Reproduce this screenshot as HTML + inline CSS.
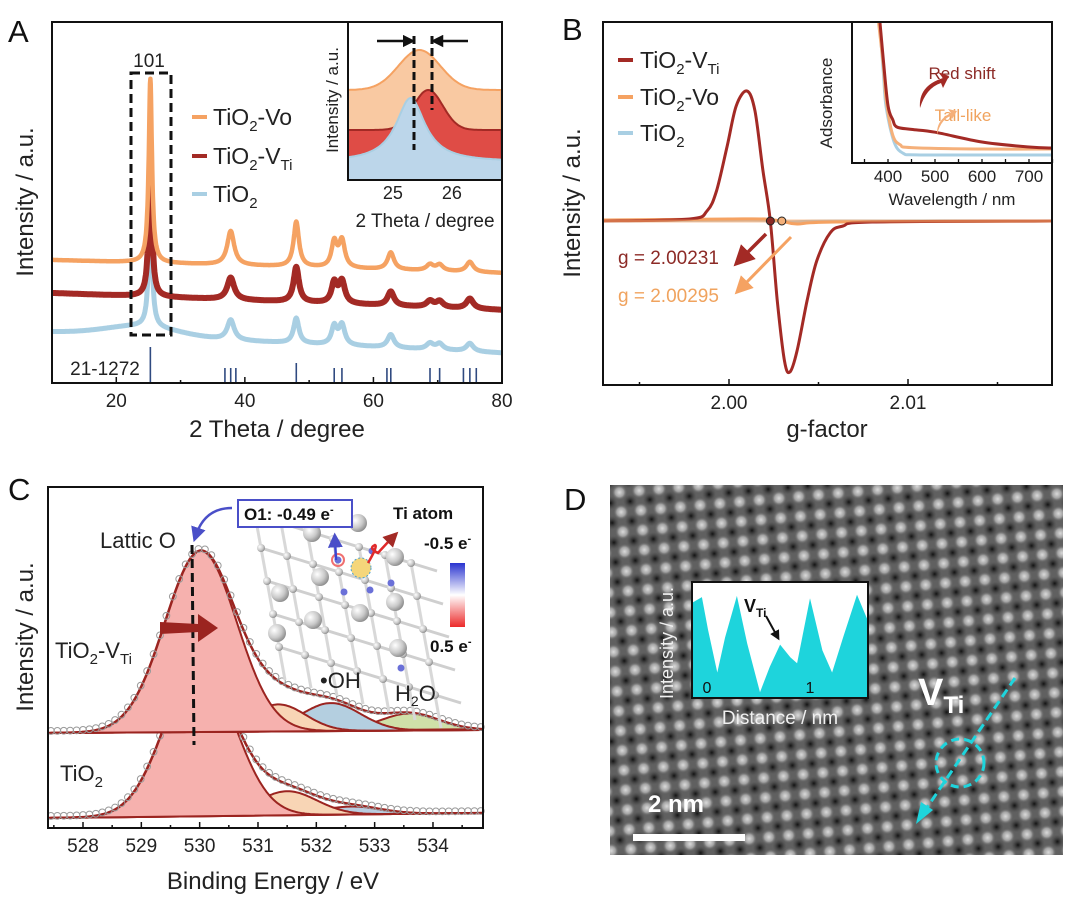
<!DOCTYPE html>
<html><head><meta charset="utf-8"><style>
html,body{margin:0;padding:0;background:#fff}
svg{display:block;font-family:"Liberation Sans",Arial,sans-serif}
</style></head><body>
<svg id="fig" width="1080" height="906" viewBox="0 0 1080 906" xmlns="http://www.w3.org/2000/svg">
<defs>
<radialGradient id="ball" cx="35%" cy="35%" r="70%"><stop offset="0" stop-color="#ffffff"/><stop offset="0.6" stop-color="#c9c9c9"/><stop offset="1" stop-color="#8a8a8a"/></radialGradient>
<radialGradient id="dot" cx="50%" cy="50%" r="50%"><stop offset="0" stop-color="#f2f2f2"/><stop offset="0.55" stop-color="#b0b0b0"/><stop offset="1" stop-color="#606060" stop-opacity="0"/></radialGradient>
<radialGradient id="hole" cx="50%" cy="50%" r="50%"><stop offset="0" stop-color="#050505"/><stop offset="1" stop-color="#404040" stop-opacity="0"/></radialGradient>
<linearGradient id="cbar" x1="0" y1="0" x2="0" y2="1"><stop offset="0" stop-color="#2a34d0"/><stop offset="0.5" stop-color="#ffffff"/><stop offset="1" stop-color="#ec2a2a"/></linearGradient>
<pattern id="lattice" width="28" height="28" patternUnits="userSpaceOnUse" patternTransform="rotate(40)">
<rect width="28" height="28" fill="#626262"/>
<circle cx="7" cy="7" r="8" fill="url(#dot)"/><circle cx="21" cy="21" r="8" fill="url(#dot)"/>
<circle cx="21" cy="7" r="7" fill="url(#hole)"/><circle cx="7" cy="21" r="7" fill="url(#hole)"/>
</pattern>
<marker id="ahRed" markerWidth="6" markerHeight="6" refX="3" refY="3" orient="auto"><path d="M0,0L6,3L0,6z" fill="#a32a25"/></marker>
<marker id="ahOr" markerWidth="6" markerHeight="6" refX="3" refY="3" orient="auto"><path d="M0,0L6,3L0,6z" fill="#f5a262"/></marker>
<marker id="ahBlue" markerWidth="6" markerHeight="6" refX="3" refY="3" orient="auto"><path d="M0,0L6,3L0,6z" fill="#4a4fc8"/></marker>
<marker id="ahBlk" markerWidth="5" markerHeight="5" refX="2.5" refY="2.5" orient="auto"><path d="M0,0L5,2.5L0,5z" fill="#111"/></marker>
</defs>
<g id="gA"></g>
<g id="gB"></g>
<g id="gC"></g>
<g id="gD"></g>
</svg>
<script>
// ===== Panel A data (XRD) =====
const xrdPeaks = [25.3, 37.8, 48.0, 53.9, 55.1, 62.7, 68.8, 70.3, 75.0];
const xrdWidths = [0.6, 1.3, 1.0, 1.0, 1.1, 1.2, 1.3, 1.3, 1.3];
const orangeHeights = [184, 34, 45, 25, 27, 17, 6, 6, 10];
const redHeights = [140, 22, 35, 20, 22, 14, 6, 6, 10];
const blueHeights = [133, 20, 25, 18, 20, 13, 6, 6, 8];
const orangeBase = [123, 110];
const redBase = [90, 73];
const blueBase = [51, 30];
const blueHump = [24, 10, 8];
const refSticks = [25.3, 36.9, 37.8, 38.6, 48.0, 53.9, 55.1, 62.1, 62.7, 68.8, 70.3, 74.0, 75.0, 76.0];
const refHeights = [36, 15, 15, 15, 20, 15, 15, 15, 15, 15, 15, 15, 15, 15];
const xTicksA = [20, 40, 60, 80];
// inset A
const insetOrange = [90, 40, 25.45, 0.5];
const insetRed = [50, 40, 25.6, 0.35];
const insetBlue = [18, 64, 25.3, 0.3];
const xTicksAi = [25, 26];
// ===== Panel B data (EPR) =====
const eprRedG = [1.9930,1.9978,1.99877,1.9993,1.9999,2.0004,2.0010,2.00145,2.0019,2.00231,2.0027,2.0031,2.0034,2.0038,2.00436,2.0049,2.00565,2.00637,2.0080,2.0180];
const eprRedI = [0,2,10,30,75,115,130,110,50,0,-80,-140,-151,-130,-80,-40,-12,-5,-1,0];
const eprOrangeG = [1.9930,2.0000,2.0020,2.0029,2.0038,2.0060,2.0180];
const eprOrangeI = [1,2,2,0,-3,-1,0];
const eprBlueG = [1.9930,2.0010,2.0025,2.0035,2.0060,2.0180];
const eprBlueI = [0,1,0,-1,0,0];
const gMarks = [2.00231, 2.00295];
const xTicksB = [2.00, 2.01];
// inset B (UV-vis)
const uvRedW = [383,390,400,410,419,450,500,600,700,748];
const uvRedA = [1.0,0.74,0.41,0.31,0.257,0.24,0.22,0.15,0.114,0.107];
const uvOrangeW = [380,390,396,410,426,450,600,748];
const uvOrangeA = [1.0,0.7,0.45,0.2,0.13,0.11,0.1,0.1];
const uvBlueW = [382,390,396,413,432,460,600,748];
const uvBlueA = [1.0,0.65,0.4,0.15,0.07,0.058,0.057,0.057];
const xTicksBi = [400, 500, 600, 700];
// ===== Panel C data (XPS) =====
const xpsTopCenters = [530.02, 531.35, 532.25, 533.6];
const xpsTopHeights = [181, 27, 28, 17];
const xpsTopFwhm = [1.45, 1.1, 1.2, 1.2];
const xpsBotCenters = [530.0, 531.5, 532.6];
const xpsBotHeights = [152, 24, 8];
const xpsBotFwhm = [1.4, 1.2, 1.2];
const xpsTopBase = [95, 98];
const xpsBotBase = [10, 15];
const xTicksC = [528, 529, 530, 531, 532, 533, 534];
// ===== Panel D data (line profile) =====
const profX = [-0.146,-0.05,0.01,0.10,0.175,0.29,0.39,0.515,0.61,0.71,0.81,0.875,1.0,1.12,1.215,1.32,1.456,1.56];
const profY = [0.82,0.87,0.59,0.22,0.52,0.88,0.47,0.05,0.27,0.46,0.35,0.30,0.86,0.41,0.22,0.52,0.89,0.67];

const NS = "http://www.w3.org/2000/svg";
function mk(tag, attrs, parent){ const e=document.createElementNS(NS,tag); for(const k in attrs) e.setAttribute(k,attrs[k]); parent.appendChild(e); return e; }
function txt(str, attrs, parent){ const e=mk('text',attrs,parent); e.textContent=str; return e; }
function pathFrom(pts){ return pts.map((p,i)=>(i?'L':'M')+p[0].toFixed(1)+','+p[1].toFixed(1)).join(''); }
function smooth(pts){ let d='M'+pts[0][0]+','+pts[0][1]; for(let i=0;i<pts.length-1;i++){const p0=pts[Math.max(0,i-1)],p1=pts[i],p2=pts[i+1],p3=pts[Math.min(pts.length-1,i+2)]; const c1=[p1[0]+(p2[0]-p0[0])/6,p1[1]+(p2[1]-p0[1])/6],c2=[p2[0]-(p3[0]-p1[0])/6,p2[1]-(p3[1]-p1[1])/6]; d+='C'+c1[0].toFixed(1)+','+c1[1].toFixed(1)+' '+c2[0].toFixed(1)+','+c2[1].toFixed(1)+' '+p2[0].toFixed(1)+','+p2[1].toFixed(1);} return d; }
const OR='#f5a262', DR='#a32a25', LB='#a9cfe3';

// ================= PANEL A =================
const gA=document.getElementById('gA');
const xA=v=>52+(v-10)*450/70, yA=I=>383-I;
function lor(x,c,w){return 1/(1+Math.pow((x-c)/(w/2),2));}
function xrd(x,base,hts,hump){let I=base[0]+(base[1]-base[0])*(x-10)/70; for(let i=0;i<xrdPeaks.length;i++) I+=hts[i]*lor(x,xrdPeaks[i],xrdWidths[i]); if(hump) I+=hump[1]*Math.exp(-Math.pow((x-hump[0])/hump[2],2)); return I;}
const seriesA=[['xrd-tio2',blueBase,blueHeights,LB,5,blueHump],['xrd-tio2-vti',redBase,redHeights,DR,6,null],['xrd-tio2-vo',orangeBase,orangeHeights,OR,4.5,null]];
seriesA.forEach(s=>{const pts=[];for(let x=10;x<=80.001;x+=0.05) pts.push([xA(x),yA(xrd(x,s[1],s[2],s[5]))]);
 const p=mk('path',{d:pathFrom(pts),fill:'none',stroke:s[3],'stroke-width':s[4],'stroke-linejoin':'round'},gA);
 
 });
refSticks.forEach((v,i)=>{const l=mk('line',{x1:xA(v),x2:xA(v),y1:383,y2:383-refHeights[i],stroke:'#2f4a80','stroke-width':1.6},gA);
 
 });
let e;
e=mk('rect',{x:52,y:22,width:450,height:361,fill:'none',stroke:'#111','stroke-width':2},gA);
 
for(let v=10;v<=80;v+=10){const t=mk('line',{x1:xA(v),x2:xA(v),y1:383,y2:v%20==0?377:380,stroke:'#111','stroke-width':1.5},gA);
 
 }
xTicksA.forEach(v=>{const t=txt(String(v),{x:xA(v),y:407,'font-size':19,'text-anchor':'middle',fill:'#222'},gA);
 
 });
e=txt('A',{x:8,y:42,'font-size':31,fill:'#111'},gA);  
e=txt('2 Theta / degree',{x:277,y:437,'font-size':24,'text-anchor':'middle',fill:'#222'},gA);  
e=txt('Intensity / a.u.',{x:0,y:0,'font-size':24,'text-anchor':'middle',fill:'#222',transform:'translate(33,202) rotate(-90)'},gA);  
e=mk('rect',{x:131,y:73,width:40,height:262,fill:'none',stroke:'#111','stroke-width':3,'stroke-dasharray':'9,5'},gA);  
e=txt('101',{x:149,y:67,'font-size':19,'text-anchor':'middle',fill:'#222'},gA);  
e=txt('21-1272',{x:105,y:375,'font-size':19,'text-anchor':'middle',fill:'#222'},gA);  
[['TiO','2','-Vo',OR,117,''],['TiO','2','-V',DR,156,'Ti'],['TiO','2','',LB,194,'']].forEach(l=>{
 const ln=mk('line',{x1:192,x2:207,y1:l[4],y2:l[4],stroke:l[3],'stroke-width':4},gA);
  
 const t=mk('text',{x:213,y:l[4]+8,'font-size':23,fill:'#222'},gA);
  
 t.innerHTML='TiO<tspan font-size="15" dy="6">2</tspan><tspan dy="-6">'+l[2]+'</tspan>'+(l[5]?'<tspan font-size="15" dy="6">'+l[5]+'</tspan>':'');});
// inset A
const gAi=mk('g',{},gA);  
mk('rect',{x:348,y:22,width:154,height:158,fill:'#fff'},gAi);
const xAi=v=>348+(v-24.24)*59, yAi=I=>180-I;
[[insetOrange,'#f9c9a2',OR,'inset-tio2-vo'],[insetRed,'#df4c46',DR,'inset-tio2-vti'],[insetBlue,'#bcd6ea',LB,'inset-tio2']].forEach(s=>{
 const pts=[];for(let x=24.24;x<=26.85;x+=0.02){const d=s[0];pts.push([xAi(x),yAi(d[0]+d[1]*(s[3]=='inset-tio2'?lor(x,d[2],d[3]*2):Math.exp(-Math.pow((x-d[2])/d[3],2))))]);}
 const a=mk('path',{d:pathFrom(pts)+'L502,180L348,180Z',fill:s[1],stroke:s[2],'stroke-width':2},gAi);
 
 });
mk('rect',{x:348,y:22,width:154,height:158,fill:'none',stroke:'#111','stroke-width':2},gAi);
xTicksAi.forEach(v=>{const t=txt(String(v),{x:xAi(v),y:199,'font-size':18,'text-anchor':'middle',fill:'#222'},gAi);
  });
e=txt('2 Theta / degree',{x:425,y:227,'font-size':19,'text-anchor':'middle',fill:'#222'},gAi);  
e=txt('Intensity / a.u.',{x:0,y:0,'font-size':17,'text-anchor':'middle',fill:'#222',transform:'translate(338,100) rotate(-90)'},gAi);  
mk('line',{x1:414,x2:414,y1:36,y2:150,stroke:'#111','stroke-width':3,'stroke-dasharray':'8,4'},gAi);
mk('line',{x1:432,x2:432,y1:36,y2:110,stroke:'#111','stroke-width':3,'stroke-dasharray':'8,4'},gAi);
mk('line',{x1:377,x2:409,y1:41,y2:41,stroke:'#111','stroke-width':2.5,'marker-end':'url(#ahBlk)'},gAi);
mk('line',{x1:468,x2:437,y1:41,y2:41,stroke:'#111','stroke-width':2.5,'marker-end':'url(#ahBlk)'},gAi);

// ================= PANEL B =================
const gB=document.getElementById('gB');
const xB=g=>729+(g-2.00)*17900, yB=I=>221-I;
function clipPts(G,I){return G.map((g,i)=>[Math.max(603,Math.min(1052,xB(g))),yB(I[i])]);}
[[eprBlueG,eprBlueI,LB,'epr-tio2'],[eprOrangeG,eprOrangeI,OR,'epr-tio2-vo'],[eprRedG,eprRedI,DR,'epr-tio2-vti']].forEach(s=>{
 const p=mk('path',{d:smooth(clipPts(s[0],s[1])),fill:'none',stroke:s[2],'stroke-width':3},gB);
 
 });
mk('line',{x1:603,x2:1052,y1:221,y2:221,stroke:OR,'stroke-width':3,opacity:0.6},gB);
e=mk('rect',{x:603,y:22,width:449,height:363,fill:'none',stroke:'#111','stroke-width':2},gB);  
for(let g=1.995;g<=2.0176;g+=0.005){const t=mk('line',{x1:xB(g),x2:xB(g),y1:385,y2:Math.abs((g*1000)%10)<0.5||Math.abs((g*1000)%10)>9.5?379:382,stroke:'#111','stroke-width':1.5},gB);
  }
xTicksB.forEach(v=>{const t=txt(v.toFixed(2),{x:xB(v),y:409,'font-size':19,'text-anchor':'middle',fill:'#222'},gB);
  });
e=txt('B',{x:562,y:40,'font-size':31,fill:'#111'},gB);  
e=txt('g-factor',{x:827,y:437,'font-size':24,'text-anchor':'middle',fill:'#222'},gB);  
e=txt('Intensity / a.u.',{x:0,y:0,'font-size':24,'text-anchor':'middle',fill:'#222',transform:'translate(580,203) rotate(-90)'},gB);  
[[DR,'#8c2a26'],[OR,'#f3b07a']].forEach((c,i)=>{const m=mk('circle',{cx:xB(gMarks[i]),cy:221,r:4,fill:c[1],stroke:'#222','stroke-width':1},gB);
  });
mk('line',{x1:766,y1:234,x2:741,y2:259,stroke:DR,'stroke-width':3.5,'marker-end':'url(#ahRed)'},gB);
mk('line',{x1:791,y1:237,x2:741,y2:288,stroke:OR,'stroke-width':3,'marker-end':'url(#ahOr)'},gB);
e=txt('g = 2.00231',{x:618,y:264,'font-size':19,fill:'#8c2a26'},gB);  
e=txt('g = 2.00295',{x:618,y:302,'font-size':19,fill:'#f0a35e'},gB);  
[[DR,60,'-V','Ti'],[OR,97,'-Vo',''],[LB,133,'','']].forEach(l=>{
 const ln=mk('line',{x1:618,x2:633,y1:l[1],y2:l[1],stroke:l[0],'stroke-width':4},gB);
  
 const t=mk('text',{x:640,y:l[1]+8,'font-size':23,fill:'#222'},gB);
  
 t.innerHTML='TiO<tspan font-size="15" dy="6">2</tspan><tspan dy="-6">'+l[2]+'</tspan>'+(l[3]?'<tspan font-size="15" dy="6">'+l[3]+'</tspan>':'');});
// inset B
const gBi=mk('g',{},gB);  
mk('rect',{x:852,y:22,width:200,height:141,fill:'#fff'},gBi);
const xBi=w=>888+(w-400)*0.47, yBi=a=>163-a*140;
[[uvBlueW,uvBlueA,LB,'uv-tio2'],[uvOrangeW,uvOrangeA,'#f5b07a','uv-tio2-vo'],[uvRedW,uvRedA,DR,'uv-tio2-vti']].forEach(s=>{
 const p=mk('path',{d:smooth(s[0].map((w,i)=>[xBi(w),yBi(s[1][i])])),fill:'none',stroke:s[2],'stroke-width':3},gBi);
 
 });
mk('rect',{x:852,y:22,width:200,height:141,fill:'none',stroke:'#111','stroke-width':2},gBi);
for(let w=350;w<=750;w+=50){const t=mk('line',{x1:xBi(w),x2:xBi(w),y1:163,y2:159,stroke:'#111','stroke-width':1.3},gBi);
  }
xTicksBi.forEach(v=>{const t=txt(String(v),{x:xBi(v),y:182,'font-size':17,'text-anchor':'middle',fill:'#222'},gBi);
  });
e=txt('Wavelength / nm',{x:952,y:205,'font-size':17,'text-anchor':'middle',fill:'#222'},gBi);  
e=txt('Adsorbance',{x:0,y:0,'font-size':17,'text-anchor':'middle',fill:'#222',transform:'translate(832,103) rotate(-90)'},gBi);  
e=txt('Red shift',{x:962,y:79,'font-size':17,'text-anchor':'middle',fill:'#8c2a26'},gBi);  
e=txt('Tail-like',{x:963,y:121,'font-size':17,'text-anchor':'middle',fill:'#f0a35e'},gBi);  
mk('path',{d:'M920,108 Q918,86 943,78 L938,72 L949,76 L943,88 L941,83 Q926,88 920,108Z',fill:DR},gBi);
mk('path',{d:'M937,135 Q936,120 951,113 L948,109 L957,111 L952,119 L950,116 Q940,121 937,135Z',fill:'#f5b07a'},gBi);

// ================= PANEL C =================
const gC=document.getElementById('gC');
const xC=v=>83+(v-528)*58.33, yCt=I=>828-I;
function gauss(x,c,f){return Math.exp(-4*Math.LN2*Math.pow((x-c)/f,2));}
function drawXPS(C,H,F,base,name,fills){
 const bl=x=>base[0]+(base[1]-base[0])*(x-527.4)/7.46;
 const xs=[];for(let x=527.4;x<=534.86;x+=0.03) xs.push(x);
 for(let k=C.length-1;k>=0;k--){const pts=xs.map(x=>[xC(x),yCt(bl(x)+H[k]*gauss(x,C[k],F[k]))]);
  const p=mk('path',{d:pathFrom(pts)+'Z',fill:fills[k],stroke:'#9b2420','stroke-width':2},gC);
  
  }
 const env=xs.map(x=>[xC(x),yCt(bl(x)+C.reduce((s,c,k)=>s+H[k]*gauss(x,c,F[k]),0))]);
 const p=mk('path',{d:pathFrom(env),fill:'none',stroke:'#9b2420','stroke-width':2.5},gC);
 
 
 for(let x=527.45;x<=534.86;x+=0.11){const I=bl(x)+C.reduce((s,c,k)=>s+H[k]*gauss(x,c,F[k]),0);
  const c=mk('circle',{cx:xC(x),cy:yCt(I)-2,r:3.4,fill:'none',stroke:'#9a9a9a','stroke-width':1},gC);
  
  }
}
drawXPS(xpsBotCenters,xpsBotHeights,xpsBotFwhm,xpsBotBase,'xps-tio2',['#f6b1ae','#f8d5b5','#b9cde0']);
drawXPS(xpsTopCenters,xpsTopHeights,xpsTopFwhm,xpsTopBase,'xps-tio2-vti',['#f6b1ae','#f8d5b5','#b4cfe0','#cfe0a8']);
e=mk('rect',{x:48,y:487,width:435,height:341,fill:'none',stroke:'#111','stroke-width':2},gC);  
for(let v=527.5;v<=534.8;v+=0.5){const t=mk('line',{x1:xC(v),x2:xC(v),y1:828,y2:Math.abs(v%1)<0.01?822:825,stroke:'#111','stroke-width':1.5},gC);
  }
xTicksC.forEach(v=>{const t=txt(String(v),{x:xC(v),y:852,'font-size':19,'text-anchor':'middle',fill:'#222'},gC);
  });
e=txt('C',{x:8,y:500,'font-size':31,fill:'#111'},gC);  
e=txt('Binding Energy / eV',{x:273,y:889,'font-size':24,'text-anchor':'middle',fill:'#222'},gC);  
e=txt('Intensity / a.u.',{x:0,y:0,'font-size':24,'text-anchor':'middle',fill:'#222',transform:'translate(33,637) rotate(-90)'},gC);  
mk('line',{x1:192,x2:194,y1:545,y2:745,stroke:'#111','stroke-width':3,'stroke-dasharray':'9,5'},gC);
e=txt('Lattic O',{x:100,y:548,'font-size':22,fill:'#222'},gC);  
e=mk('text',{x:55,y:658,'font-size':22,fill:'#222'},gC);  
e.innerHTML='TiO<tspan font-size="15" dy="6">2</tspan><tspan dy="-6">-V</tspan><tspan font-size="15" dy="6">Ti</tspan>';
e=mk('text',{x:60,y:781,'font-size':22,fill:'#222'},gC);  
e.innerHTML='TiO<tspan font-size="15" dy="6">2</tspan>';
mk('path',{d:'M160,622 L198,624 L198,614 L218,628 L198,642 L198,632 L160,634 Z',fill:'#9b2420'},gC);
// molecule structure (decorative)
const gM=mk('g',{},gC);  
const big=[[280,593],[320,577],[358,523],[395,557],[277,633],[313,620],[360,613],[395,602],[398,648],[312,533]];
for(let i=0;i<7;i++) for(let j=0;j<5;j++){const x=255+i*26+j*6,y=515+j*33+i*8; mk('line',{x1:x,y1:y,x2:x+26,y2:y+8,stroke:'#cfcfcf','stroke-width':3},gM); mk('line',{x1:x,y1:y,x2:x+6,y2:y+33,stroke:'#d8d8d8','stroke-width':3},gM); mk('circle',{cx:x,cy:y,r:4,fill:'url(#ball)'},gM);}
big.forEach(p=>mk('circle',{cx:p[0],cy:p[1],r:9,fill:'url(#ball)'},gM));
[[338,560],[372,551],[344,592],[370,590],[391,583],[401,668]].forEach(p=>mk('circle',{cx:p[0],cy:p[1],r:3.5,fill:'#6a70d8'},gM));
mk('circle',{cx:338,cy:560,r:6,fill:'none',stroke:'#f07070','stroke-width':2},gM);
mk('circle',{cx:361,cy:568,r:10,fill:'#f5d67a',stroke:'#4aa0d0','stroke-width':1,'stroke-dasharray':'2,2'},gM);
mk('line',{x1:336,y1:560,x2:335,y2:540,stroke:'#3a44d0','stroke-width':2.5,'marker-end':'url(#ahBlue)'},gM);
mk('path',{d:'M368,563 Q378,546 375,545 Q368,548 378,553 Q385,545 393,537',fill:'none',stroke:'#e02a2a','stroke-width':2.5,'marker-end':'url(#ahRed)'},gM);
e=txt('•OH',{x:320,y:688,'font-size':22,fill:'#222'},gC);  
e=mk('text',{x:395,y:701,'font-size':22,fill:'#222'},gC);  
e.innerHTML='H<tspan font-size="14" dy="5">2</tspan><tspan dy="-5">O</tspan>';
e=mk('rect',{x:238,y:500,width:114,height:27,fill:'#fff',stroke:'#4a4fc8','stroke-width':2},gC);  
e=mk('text',{x:244,y:520,'font-size':17,'font-weight':'bold',fill:'#111'},gC);  
e.innerHTML='O1: -0.49 e<tspan font-size="11" dy="-7">-</tspan>';
mk('path',{d:'M232,508 Q205,508 196,535',fill:'none',stroke:'#4a4fc8','stroke-width':2.5,'marker-end':'url(#ahBlue)'},gC);
e=txt('Ti atom',{x:393,y:519,'font-size':17,'font-weight':'bold',fill:'#111'},gC);  
e=mk('text',{x:424,y:549,'font-size':17,'font-weight':'bold',fill:'#111'},gC);  
e.innerHTML='-0.5 e<tspan font-size="11" dy="-7">-</tspan>';
e=mk('rect',{x:450,y:563,width:15,height:64,fill:'url(#cbar)'},gC);  
e=mk('text',{x:430,y:652,'font-size':17,'font-weight':'bold',fill:'#111'},gC);  
e.innerHTML='0.5 e<tspan font-size="11" dy="-7">-</tspan>';

// ================= PANEL D =================
const gD=document.getElementById('gD');
e=txt('D',{x:564,y:510,'font-size':31,fill:'#111'},gD);  
e=mk('rect',{x:610,y:485,width:453,height:370,fill:'url(#lattice)'},gD);  
mk('rect',{x:610,y:485,width:453,height:370,fill:'#555',opacity:0.15},gD);
e=mk('rect',{x:692,y:582,width:176,height:116,fill:'#fff',stroke:'#111','stroke-width':2},gD);  
const xD=v=>707+v*103, yD=v=>698-v*116;
e=mk('path',{d:pathFrom(profX.map((x,i)=>[xD(x),yD(profY[i])]))+'L868,698L692,698Z',fill:'#1ed4dc'},gD);
 
mk('rect',{x:692,y:582,width:176,height:116,fill:'none',stroke:'#111','stroke-width':2},gD);
e=txt('0',{x:xD(0),y:693,'font-size':16,'text-anchor':'middle',fill:'#111'},gD);  
e=txt('1',{x:xD(1),y:693,'font-size':16,'text-anchor':'middle',fill:'#111'},gD);  
e=mk('text',{x:744,y:612,'font-size':18,'font-weight':'bold',fill:'#111'},gD);  
e.innerHTML='V<tspan font-size="12" dy="5">Ti</tspan>';
mk('line',{x1:766,y1:616,x2:777,y2:636,stroke:'#111','stroke-width':2,'marker-end':'url(#ahBlk)'},gD);
e=txt('Distance / nm',{x:780,y:724,'font-size':19,'text-anchor':'middle',fill:'#f0f0f0'},gD);  
e=txt('Intensity / a.u.',{x:0,y:0,'font-size':18,'text-anchor':'middle',fill:'#f0f0f0',transform:'translate(673,643) rotate(-90)'},gD);  
e=mk('text',{x:918,y:705,'font-size':38,'font-weight':'bold',fill:'#fff'},gD);  
e.innerHTML='V<tspan font-size="24" dy="8">Ti</tspan>';
e=mk('line',{x1:1015,y1:678,x2:924,y2:812,stroke:'#1ed4dc','stroke-width':3,'stroke-dasharray':'9,5'},gD);  
mk('path',{d:'M916,824 L921,802 L933,810 Z',fill:'#1ed4dc'},gD);
e=mk('circle',{cx:960,cy:763,r:24,fill:'none',stroke:'#1ed4dc','stroke-width':3,'stroke-dasharray':'8,5'},gD);  
e=mk('rect',{x:633,y:834,width:112,height:7,fill:'#fff'},gD);  
e=txt('2 nm',{x:648,y:812,'font-size':24,'font-weight':'bold',fill:'#fff'},gD);  
</script>
</body></html>
